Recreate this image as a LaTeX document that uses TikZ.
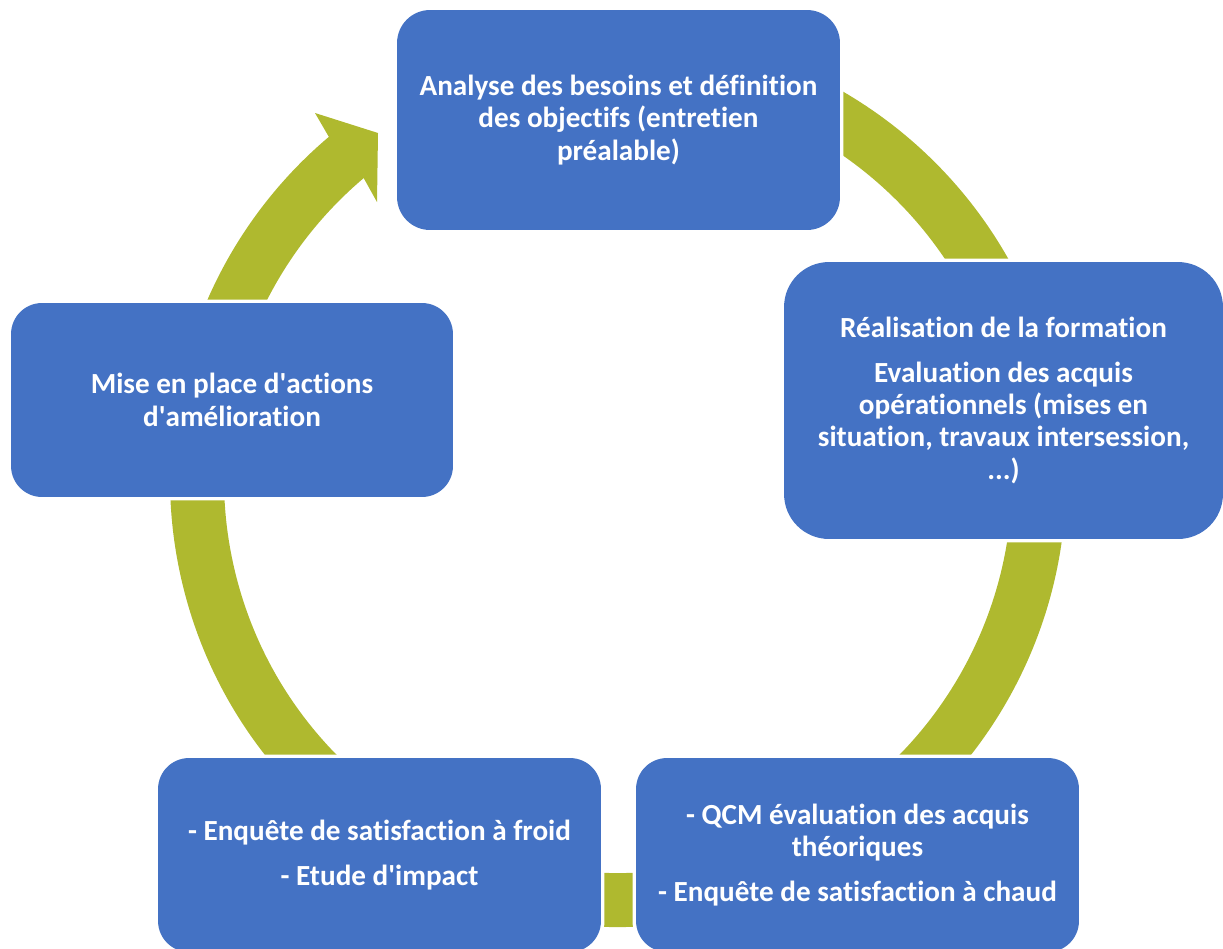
\documentclass[tikz,border=0pt]{standalone}
\usepackage{fontspec}
\setmainfont{Carlito}[Ligatures={TeX,NoCommon}]
\usetikzlibrary{calc}
\definecolor{bleu}{RGB}{68,114,196}
\definecolor{anneauvert}{RGB}{175,185,47}
\tikzset{etape/.style={fill=bleu, preaction={draw=white, line width=0.14cm}, text=white, align=center, inner sep=0pt, minimum width=8.86cm, font=\bfseries\fontsize{16.6}{18.4}\selectfont}}
\tikzset{anneau/.style={draw=anneauvert, line width=1.08cm}}
\newcommand{\ap}{\textquotesingle}

\begin{document}
\begin{tikzpicture}[x=0.02cm, y=0.02cm]
\useasboundingbox (0,0) rectangle (1223,-948);
\coordinate (ctr) at (618,-479);

\draw[anneau] ($(ctr)+(100:421)$) arc[start angle=100, end angle=-230.5, radius=421];
\fill[anneauvert] ($(ctr)+(130.2:448)$) -- (315,-113) -- (378,-133) -- (377,-202) -- ($(ctr)+(130.2:394)$) -- cycle;

\node[etape, minimum height=4.4cm, rounded corners=0.66cm] (analyse) at (618.5,-120)
 {Analyse des besoins et définition\\des objectifs (entretien\\préalable)};
\node[etape, minimum width=8.78cm, minimum height=5.54cm, rounded corners=0.9cm] (real) at (1003.5,-400.5)
 {Réalisation de la formation\\[6.8pt]Evaluation des acquis\\opérationnels (mises en\\situation, travaux intersession,\\...)};
\node[etape, minimum height=3.88cm, rounded corners=0.62cm] (qcm) at (857.5,-855)
 {- QCM évaluation des acquis\\théoriques\\[6.8pt]- Enquête de satisfaction à chaud};
\node[etape, minimum height=3.88cm, rounded corners=0.62cm] (froid) at (379.5,-855)
 {- Enquête de satisfaction à froid\\[6.8pt]- Etude d\ap impact};
\node[etape, minimum width=8.84cm, minimum height=3.88cm, rounded corners=0.62cm] (amelio) at (232,-400)
 {Mise en place d\ap actions\\d\ap amélioration};
\end{tikzpicture}
\end{document}
